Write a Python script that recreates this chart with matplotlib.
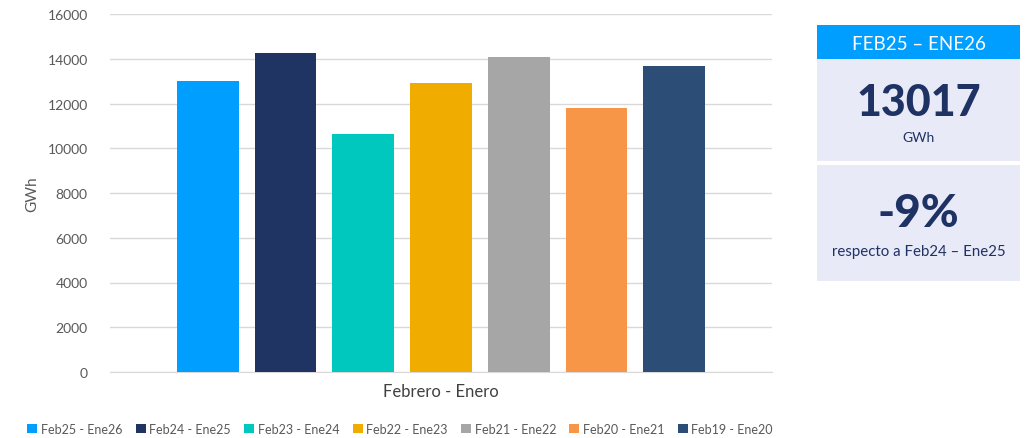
import matplotlib
matplotlib.use("Agg")
import matplotlib.pyplot as plt
from matplotlib.patches import Rectangle, Patch

plt.rcParams['font.family'] = ['Lato', 'DejaVu Sans']

series = ["Feb25 - Ene26", "Feb24 - Ene25", "Feb23 - Ene24", "Feb22 - Ene23",
          "Feb21 - Ene22", "Feb20 - Ene21", "Feb19 - Ene20"]
values = [13017, 14250, 10640, 12920, 14080, 11800, 13680]
colors = ["#009FFF", "#203464", "#00C8BE", "#F0AD00", "#A6A6A6", "#F79646", "#2C4D75"]
yticks = [0, 2000, 4000, 6000, 8000, 10000, 12000, 14000, 16000]
category = "Febrero - Enero"
ylabel = "GWh"
kpi_header = "FEB25 – ENE26"
kpi_value = "13017"
kpi_unit = "GWh"
kpi_change = "-9%"
kpi_note = "respecto a Feb24 – Ene25"

W, H = 1031, 439
fig = plt.figure(figsize=(W / 100, H / 100), dpi=100)
ax = fig.add_axes([110 / W, 1 - 373 / H, (772 - 110) / W, (373 - 15) / H])

x = list(range(len(values)))
ax.bar(x, values, width=0.795, color=colors, zorder=3)
ax.set_xlim(-1.256, 7.256)
ax.set_ylim(0, 16000)
ax.set_yticks(yticks)
ax.set_yticklabels([str(t) for t in yticks], color="#595959", fontsize=10)
ax.set_xticks([])
ax.grid(axis="y", color="#D9D9D9", linewidth=1, zorder=0)
for s in ax.spines.values():
    s.set_visible(False)
ax.spines['bottom'].set_visible(True)
ax.spines['bottom'].set_color("#D9D9D9")
ax.tick_params(axis="y", length=0, pad=16)
ax.set_ylabel(ylabel, color="#595959", fontsize=11, labelpad=6)
ax.set_xlabel(category, color="#404040", fontsize=12, labelpad=8)

handles = [Patch(facecolor=c, edgecolor="none") for c in colors]
fig.legend(handles, series, loc="center", bbox_to_anchor=(400 / W, 1 - 430 / H),
           ncol=7, frameon=False, fontsize=9, handlelength=0.8, handleheight=0.8,
           handletextpad=0.3, columnspacing=1.05, labelcolor="#595959")

# KPI panel
def box(x0, y0, x1, y1, color):
    fig.add_artist(Rectangle((x0 / W, 1 - y1 / H), (x1 - x0) / W, (y1 - y0) / H,
                             transform=fig.transFigure, facecolor=color,
                             edgecolor="none"))

box(817, 26, 1020, 60, "#009FFF")
box(817, 60, 1020, 162, "#E8EAF7")
box(817, 166, 1020, 282, "#E8EAF7")
cx = 918.5 / W
navy = "#1F3264"
fig.text(cx, 1 - 44 / H, kpi_header, ha="center", va="center", color="white",
         fontsize=13.5)
fig.text(cx, 1 - 103 / H, kpi_value, ha="center", va="center", color=navy,
         fontsize=31, fontweight="black")
fig.text(cx, 1 - 138 / H, kpi_unit, ha="center", va="center", color=navy,
         fontsize=10)
fig.text(cx, 1 - 214 / H, kpi_change, ha="center", va="center", color=navy,
         fontsize=33, fontweight="black")
fig.text(cx, 1 - 252 / H, kpi_note, ha="center", va="center", color=navy,
         fontsize=10.8)

fig.savefig("out.png", dpi=100)
